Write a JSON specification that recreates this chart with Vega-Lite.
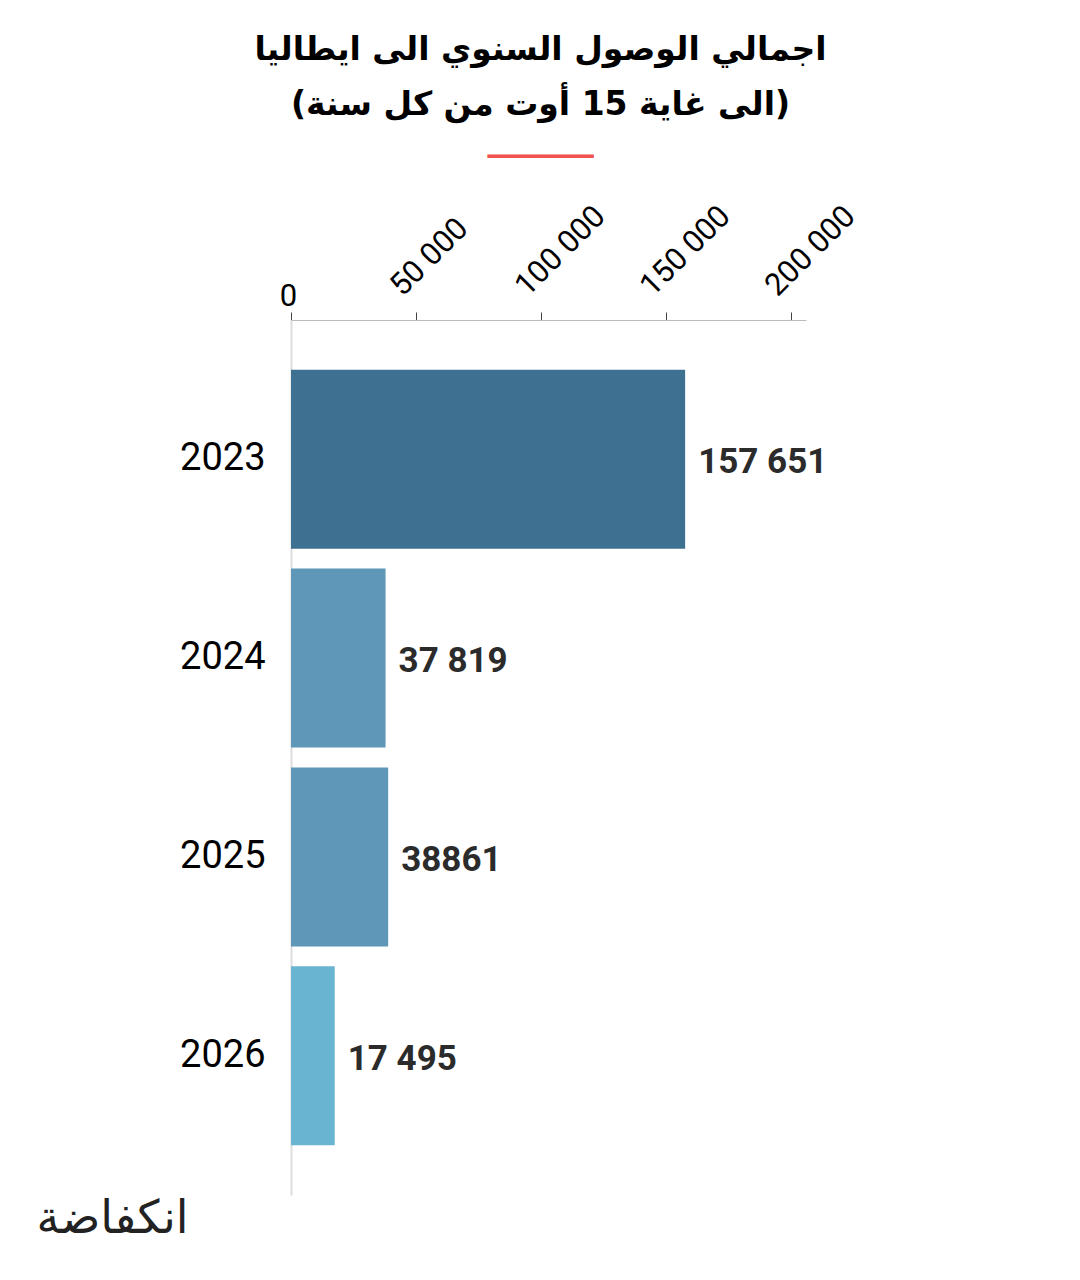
{
  "$schema": "https://vega.github.io/schema/vega-lite/v6.json",
  "autosize": {"type": "none"},
  "padding": {"left": 291, "top": 320, "right": 274, "bottom": 85},
  "width": 515,
  "height": 875,
  "background": "white",
  "config": {"view": {"stroke": null}},
  "title": {
    "text": ["اجمالي الوصول السنوي الى ايطاليا", "(الى غاية 15 أوت من كل سنة)"],
    "subtitle": "━━━━━━━━",
    "anchor": "middle",
    "frame": "group",
    "dx": -8,
    "offset": 32,
    "font": "DejaVu Sans",
    "fontSize": 33,
    "fontWeight": "bold",
    "color": "#000000",
    "lineHeight": 55,
    "subtitleFont": "DejaVu Sans Mono",
    "subtitleFontSize": 22,
    "subtitleColor": "#f0524e",
    "subtitlePadding": 25
  },
  "data": {
    "values": [
      {"year": "2023", "arrivals": 157651, "label": "157 651"},
      {"year": "2024", "arrivals": 37819, "label": "37 819"},
      {"year": "2025", "arrivals": 38861, "label": "38861"},
      {"year": "2026", "arrivals": 17495, "label": "17 495"}
    ]
  },
  "encoding": {
    "y": {
      "field": "year",
      "type": "nominal",
      "sort": null,
      "scale": {"paddingInner": 0.1, "paddingOuter": 0.25},
      "axis": {
        "title": "انكفاضة",
        "titleAngle": 0,
        "titleX": -103,
        "titleY": 912,
        "titleAlign": "right",
        "titleBaseline": "alphabetic",
        "titleFont": "DejaVu Sans",
        "titleFontWeight": "normal",
        "titleFontSize": 46,
        "titleColor": "#222222",
        "ticks": false,
        "domainColor": "#dddddd",
        "domainWidth": 2,
        "labelFont": "Roboto",
        "labelFontSize": 38,
        "labelColor": "#000000",
        "labelPadding": 26
      }
    },
    "x": {
      "field": "arrivals",
      "type": "quantitative",
      "scale": {"domain": [0, 206000], "nice": false},
      "axis": {
        "orient": "top",
        "title": null,
        "values": [0, 50000, 100000, 150000, 200000],
        "grid": false,
        "labelExpr": "replace(format(datum.value, ','), ',', ' ')",
        "labelFont": "Roboto",
        "labelFontSize": 31,
        "labelColor": "#000000",
        "labelAngle": {"expr": "datum.value === 0 ? 0 : -45"},
        "labelAlign": {"expr": "datum.value === 0 ? 'center' : 'left'"},
        "labelBaseline": "alphabetic",
        "labelPadding": {"expr": "datum.value === 0 ? 7 : 15"},
        "labelOffset": {"expr": "datum.value === 0 ? -3 : -14"},
        "labelFlush": false,
        "labelOverlap": false,
        "domainColor": "#bbbbbb",
        "tickColor": "#444444",
        "tickSize": 8
      }
    }
  },
  "layer": [
    {
      "mark": {"type": "bar"},
      "encoding": {
        "color": {
          "field": "year",
          "type": "nominal",
          "legend": null,
          "scale": {
            "domain": ["2023", "2024", "2025", "2026"],
            "range": ["#3e7091", "#5f97b8", "#5f97b8", "#69b4d1"]
          }
        }
      }
    },
    {
      "mark": {
        "type": "text",
        "align": "left",
        "baseline": "middle",
        "dx": 13,
        "dy": 3,
        "font": "Roboto",
        "fontWeight": "bold",
        "fontSize": 35,
        "color": "#2b2b2b"
      },
      "encoding": {
        "text": {"field": "label"}
      }
    }
  ]
}
